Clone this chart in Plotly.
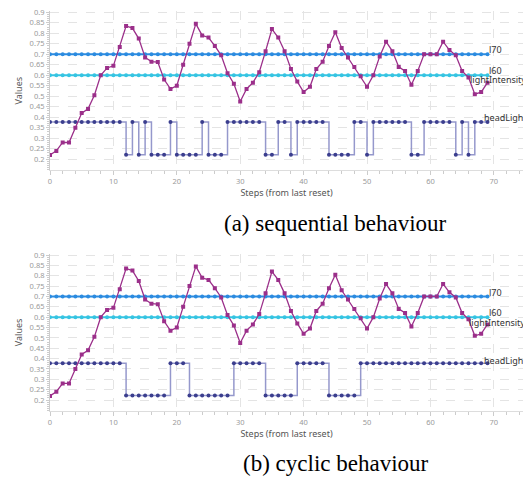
import plotly.graph_objects as go

steps = list(range(70))

light_intensity = [0.22, 0.24, 0.28, 0.28, 0.35, 0.42, 0.44, 0.505, 0.60, 0.635,
                   0.645, 0.735, 0.835, 0.825, 0.775, 0.685, 0.665, 0.663, 0.58, 0.535,
                   0.55, 0.65, 0.75, 0.845, 0.79, 0.78, 0.74, 0.695, 0.61, 0.56,
                   0.475, 0.535, 0.565, 0.615, 0.715, 0.82, 0.78, 0.715, 0.63, 0.57,
                   0.52, 0.545, 0.63, 0.665, 0.74, 0.805, 0.73, 0.685, 0.64, 0.595,
                   0.545, 0.60, 0.69, 0.76, 0.715, 0.64, 0.62, 0.555, 0.62, 0.70,
                   0.70, 0.70, 0.76, 0.72, 0.695, 0.62, 0.59, 0.51, 0.52, 0.565]

l70_level = 0.70
l60_level = 0.60
l70 = [l70_level] * len(steps)
l60 = [l60_level] * len(steps)

H = 0.378
L = 0.222
headlight_seq = ([H] * 12 + [L] + [H] + [L] + [H] + [L] * 3 + [H] + [L] * 4 + [H] + [L] * 3 +
                 [H] * 6 + [L] * 2 + [H] * 2 + [L] + [H] * 5 + [L] * 4 + [H] * 2 + [L] +
                 [H] * 6 + [L] * 2 + [H] * 5 + [L] + [H] + [L] + [H] * 3)
headlight_cyc = ([H] * 12 + [L] * 7 + [H] * 3 + [L] * 7 + [H] * 5 + [L] * 5 + [H] * 5 +
                 [L] * 5 + [H] * 21)

y_ticks = [0.2, 0.25, 0.3, 0.35, 0.4, 0.45, 0.5, 0.55, 0.6, 0.65, 0.7, 0.75, 0.8, 0.85, 0.9]
y_ticktext = ["0.2", "0.25", "0.3", "0.35", "0.4", "0.45", "0.5", "0.55", "0.6", "0.65",
              "0.7", "0.75", "0.8", "0.85", "0.9"]

captions = ["(a) sequential behaviour", "(b) cyclic behaviour"]

W, Hh = 523, 482
C_L70 = "#2b8be0"
C_L60 = "#35c4e2"
C_LI = "#9b2f8a"
C_HL_LINE = "#9598cc"
C_HL_MK = "#3b3e8e"

fig = go.Figure()

panels = [
    dict(xa="x", ya="y", head=headlight_seq),
    dict(xa="x2", ya="y2", head=headlight_cyc),
]

for p in panels:
    fig.add_trace(go.Scatter(x=steps, y=l70, xaxis=p["xa"], yaxis=p["ya"], mode="lines+markers",
                             line=dict(color=C_L70, width=2), marker=dict(color=C_L70, size=4)))
    fig.add_trace(go.Scatter(x=steps, y=l60, xaxis=p["xa"], yaxis=p["ya"], mode="lines+markers",
                             line=dict(color=C_L60, width=2), marker=dict(color=C_L60, size=4)))
    fig.add_trace(go.Scatter(x=steps, y=p["head"], xaxis=p["xa"], yaxis=p["ya"], mode="lines+markers",
                             line=dict(color=C_HL_LINE, width=1.5, shape="hv"),
                             marker=dict(color=C_HL_MK, size=4)))
    fig.add_trace(go.Scatter(x=steps, y=light_intensity, xaxis=p["xa"], yaxis=p["ya"],
                             mode="lines+markers", line=dict(color=C_LI, width=1.3),
                             marker=dict(color=C_LI, size=4, symbol="square")))

tick_font = dict(family="Noto Sans", size=7.5, color="#9a9a9a")
title_font = dict(family="Noto Sans", size=9, color="#555555")

def xaxis_cfg(domain_anchor):
    return dict(
        domain=[50 / W, 1], range=[0, 74.6], anchor=domain_anchor, automargin=False,
        tickmode="linear", tick0=0, dtick=10,
        showgrid=True, gridcolor="#e4e4e4", griddash="dash", gridwidth=1,
        ticks="outside", ticklen=4, tickcolor="#cccccc",
        minor=dict(dtick=2, tick0=0, ticks="outside", ticklen=3, tickcolor="#cccccc", showgrid=False),
        showline=True, linecolor="#dddddd", zeroline=False,
        tickfont=tick_font,
        title=dict(text="Steps (from last reset)", font=title_font, standoff=3),
    )

def yaxis_cfg(domain, anchor):
    return dict(
        domain=domain, range=[0.148, 0.905], anchor=anchor, automargin=False,
        tickmode="array", tickvals=y_ticks, ticktext=y_ticktext,
        showgrid=True, gridcolor="#e4e4e4", griddash="dash", gridwidth=1,
        ticks="outside", ticklen=3, tickcolor="#cccccc",
        minor=dict(tickmode="linear", tick0=0, dtick=0.01, ticks="outside", ticklen=2,
                   tickcolor="#cccccc", showgrid=False),
        showline=True, linecolor="#cccccc", zeroline=False,
        tickfont=tick_font,
        title=dict(text="Values", font=title_font, standoff=5),
    )

top_dom = [1 - 170.2 / Hh, 1 - 11.25 / Hh]
bot_dom = [1 - 410.8 / Hh, 1 - 254.0 / Hh]

fig.update_layout(
    width=W, height=Hh, margin=dict(l=0, r=0, t=0, b=0, autoexpand=False),
    paper_bgcolor="white", plot_bgcolor="white", showlegend=False,
    xaxis=xaxis_cfg("y"), yaxis=yaxis_cfg(top_dom, "x"),
    xaxis2=xaxis_cfg("y2"), yaxis2=yaxis_cfg(bot_dom, "x2"),
)

label_font = dict(family="Noto Sans", size=9, color="#333333")
labels_top = [("l70", 69.0, 0.724), ("l60", 69.0, 0.625), ("lightIntensity", 65.9, 0.582), ("headLight", 68.1, 0.40)]
labels_bot = [("l70", 68.9, 0.72), ("l60", 68.9, 0.621), ("lightIntensity", 65.8, 0.575), ("headLight", 68.1, 0.393)]
for xr, yr, labs in [("x", "y", labels_top), ("x2", "y2", labels_bot)]:
    for t, lx, ly in labs:
        fig.add_annotation(x=lx, y=ly, xref=xr, yref=yr, text=t, showarrow=False,
                           xanchor="left", yanchor="middle", font=label_font)

cap_font = dict(family="Liberation Serif", size=23, color="black")
fig.add_annotation(x=335 / W, y=1 - 223 / Hh, xref="paper", yref="paper", text=captions[0],
                   showarrow=False, xanchor="center", yanchor="middle", font=cap_font)
fig.add_annotation(x=336 / W, y=1 - 463 / Hh, xref="paper", yref="paper", text=captions[1],
                   showarrow=False, xanchor="center", yanchor="middle", font=cap_font)

fig.write_html("out.html", config={"displayModeBar": False},
               post_script="document.body.style.margin='0';document.body.style.overflow='hidden';")
